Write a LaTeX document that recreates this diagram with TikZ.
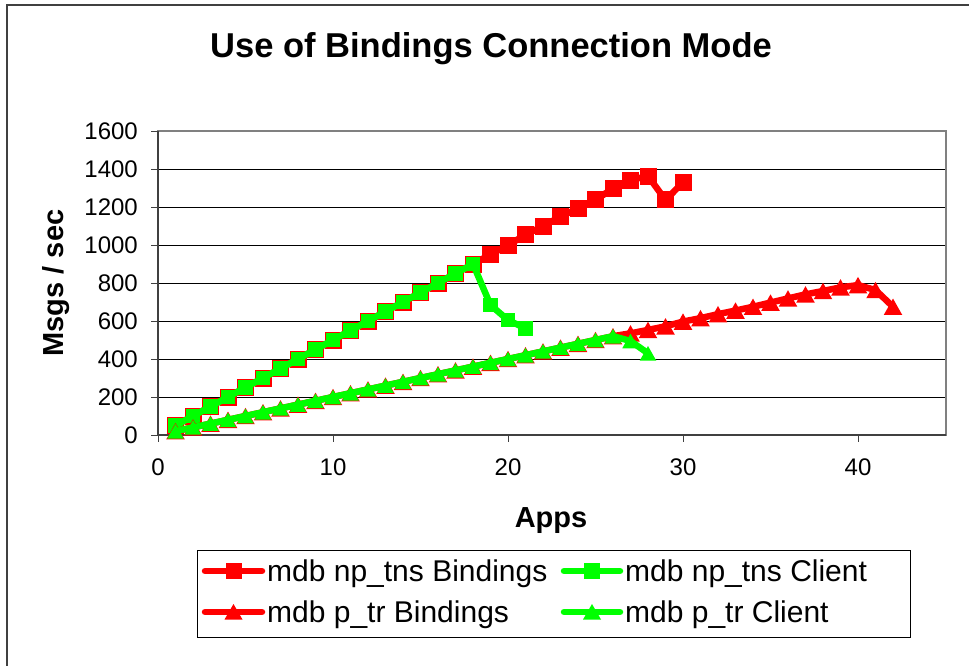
\documentclass[tikz,border=0pt]{standalone}
\usepackage{fontspec}
\setmainfont{Liberation Sans}
\usetikzlibrary{plotmarks}
\definecolor{xred}{RGB}{255,0,0}
\definecolor{xgreen}{RGB}{0,255,0}
\definecolor{axisgray}{RGB}{128,128,128}
\definecolor{framegray}{RGB}{64,64,64}
\pgfdeclareplotmark{xsq}{%
  \pgfpathrectangle{\pgfqpoint{-\pgfplotmarksize}{-\pgfplotmarksize}}{\pgfqpoint{2\pgfplotmarksize}{2\pgfplotmarksize}}%
  \pgfusepathqfill}
\pgfdeclareplotmark{xtri}{%
  \pgfpathmoveto{\pgfqpoint{0pt}{\pgfplotmarksize}}%
  \pgfpathlineto{\pgfqpoint{1.13\pgfplotmarksize}{-\pgfplotmarksize}}%
  \pgfpathlineto{\pgfqpoint{-1.13\pgfplotmarksize}{-\pgfplotmarksize}}%
  \pgfpathclose\pgfusepathqfill}
\begin{document}
\begin{tikzpicture}[x=1pt,y=1pt,
  ser/.style={line width=6.5pt, line join=round, line cap=round},
  sqred/.style={mark=xsq, mark size=8.5pt, mark options={solid, fill=xred}},
  sqgreen/.style={mark=xsq, mark size=7.4pt, mark options={solid, fill=xgreen}},
  trred/.style={mark=xtri, mark size=8.2pt, mark options={solid, fill=xred}},
  trgreen/.style={mark=xtri, mark size=7.3pt, mark options={solid, fill=xgreen}},
  ticklab/.style={font=\fontsize{24}{28}\selectfont, inner sep=0pt},
  axtitle/.style={font=\bfseries\fontsize{29}{34}\selectfont, inner sep=0pt},
  legtext/.style={font=\fontsize{30}{35}\selectfont, inner sep=0pt, anchor=base west}]
\useasboundingbox (0,0) rectangle (969,-665);
\fill[white] (0,0) rectangle (969,-665);
\draw[framegray, line width=2pt] (7,-667) -- (7,-5) -- (971,-5);
% title
\node[font=\bfseries\fontsize{34.5}{40}\selectfont, inner sep=0pt, anchor=base] (title) at (491,-57) {Use of Bindings Connection Mode};
% axis titles
\node[axtitle, anchor=base] (xtitle) at (551,-527) {Apps};
\node[axtitle, anchor=base, rotate=90] (ytitle) at (63,-283) {Msgs / sec};
\begin{scope}[shift={(158,-435)}, x=17.5pt, y=0.19pt]
  % gridlines
  \foreach \v in {200,400,...,1400} \draw[black, line width=1pt] (0,\v) -- (45,\v);
  % border
  \draw[axisgray, line width=2pt] (0,0) rectangle (45,1600);
  \draw[framegray, line width=2pt] (0,1600) -- (0,0) -- (45,0);
  % ticks
  \foreach \v in {0,200,...,1600} {
    \draw[framegray, line width=1pt] (0,\v) -- ++(-7pt,0);
    \node[ticklab, anchor=base east] (yl\v) at ([xshift=-20pt, yshift=-8.7pt]0,\v) {\v};
  }
  \foreach \n in {0,10,...,40} {
    \draw[framegray, line width=1pt] (\n,0) -- ++(0,-7pt);
    \node[ticklab, anchor=base] (xl\n) at ([yshift=-40pt]\n,0) {\n};
  }
  % series 1: mdb np_tns Bindings
  \draw[ser, xred, sqred] plot coordinates {(1,50) (2,100) (3,150) (4,200) (5,250) (6,300) (7,350) (8,400) (9,450) (10,500) (11,550) (12,600) (13,650) (14,700) (15,750) (16,800) (17,850) (18,900) (19,950) (20,1000) (21,1053) (22,1100) (23,1149) (24,1193) (25,1237) (26,1298) (27,1342) (28,1363) (29,1237) (30,1330)};
  % series 2: mdb np_tns Client
  \draw[ser, xgreen, sqgreen] plot coordinates {(1,50) (2,100) (3,150) (4,200) (5,250) (6,300) (7,350) (8,400) (9,450) (10,500) (11,550) (12,600) (13,650) (14,700) (15,750) (16,800) (17,850) (18,900) (19,684) (20,605) (21,561)};
  % series 3: mdb p_tr Bindings
  \draw[ser, xred, trred] plot coordinates {(1,20) (2,40) (3,60) (4,80) (5,100) (6,120) (7,140) (8,160) (9,180) (10,200) (11,220) (12,240) (13,260) (14,280) (15,300) (16,320) (17,340) (18,360) (19,380) (20,400) (21,420) (22,440) (23,460) (24,480) (25,500) (26,520) (27,535) (28,553) (29,572) (30,597) (31,615) (32,636) (33,655) (34,675) (35,697) (36,719) (37,740) (38,758) (39,777) (40,789) (41,763) (42,675)};
  % series 4: mdb p_tr Client
  \draw[ser, xgreen, trgreen] plot coordinates {(1,20) (2,40) (3,60) (4,80) (5,100) (6,120) (7,140) (8,160) (9,180) (10,200) (11,220) (12,240) (13,260) (14,280) (15,300) (16,320) (17,340) (18,360) (19,380) (20,400) (21,420) (22,440) (23,460) (24,480) (25,500) (26,520) (27,495) (28,430)};
\end{scope}
% legend
\draw[black, line width=1pt] (197,-550) rectangle (910,-637);
\draw[ser, xred] (205,-571) -- (262,-571);
\fill[xred] (233.5,-571) +(-8,-8) rectangle +(8,8);
\node[legtext] (leg1) at (267,-581) {mdb np\_tns Bindings};
\draw[ser, xgreen] (564,-571) -- (620,-571);
\fill[xgreen] (592,-571) +(-8,-8) rectangle +(8,8);
\node[legtext] (leg2) at (625,-581) {mdb np\_tns Client};
\draw[ser, xred] (205,-612) -- (262,-612);
\fill[xred] (233.5,-612) +(0,8) -- +(9,-7.5) -- +(-9,-7.5) -- cycle;
\node[legtext] (leg3) at (267,-622) {mdb p\_tr Bindings};
\draw[ser, xgreen] (564,-612) -- (620,-612);
\fill[xgreen] (592,-612) +(0,8) -- +(9,-7.5) -- +(-9,-7.5) -- cycle;
\node[legtext] (leg4) at (625,-622) {mdb p\_tr Client};
\end{tikzpicture}
\end{document}
